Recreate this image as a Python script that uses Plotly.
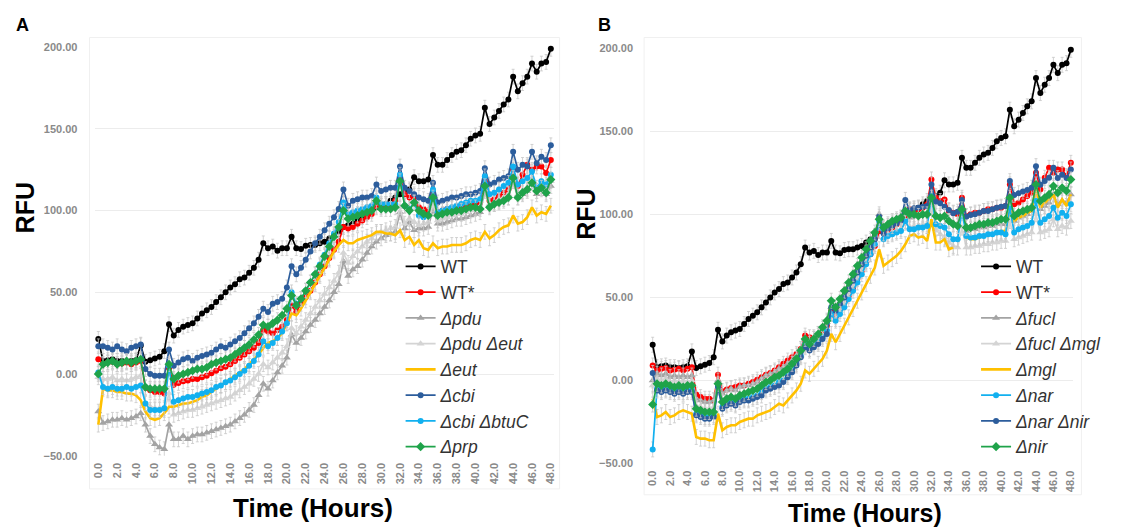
import plotly.graph_objects as go

HOURS = [0.0, 0.5, 1.0, 1.5, 2.0, 2.5, 3.0, 3.5, 4.0, 4.5, 5.0, 5.5, 6.0, 6.5, 7.0, 7.5,
         8.0, 8.5, 9.0, 9.5, 10.0, 10.5, 11.0, 11.5, 12.0, 12.5, 13.0, 13.5, 14.0, 14.5,
         15.0, 15.5, 16.0, 16.5, 17.0, 17.5, 18.0, 18.5, 19.0, 19.5, 20.0, 20.5, 21.0,
         21.5, 22.0, 22.5, 23.0, 23.5, 24.0, 24.5, 25.0, 25.5, 26.0, 26.5, 27.0, 27.5,
         28.0, 28.5, 29.0, 29.5, 30.0, 30.5, 31.0, 31.5, 32.0, 32.5, 33.0, 33.5, 34.0,
         34.5, 35.0, 35.5, 36.0, 36.5, 37.0, 37.5, 38.0, 38.5, 39.0, 39.5, 40.0, 40.5,
         41.0, 41.5, 42.0, 42.5, 43.0, 43.5, 44.0, 44.5, 45.0, 45.5, 46.0, 46.5, 47.0,
         47.5, 48.0]
TICK_VALS = [0, 2, 4, 6, 8, 10, 12, 14, 16, 18, 20, 22, 24, 26, 28, 30, 32, 34, 36, 38,
             40, 42, 44, 46, 48]
TICK_LABELS = ["0.0", "2.0", "4.0", "6.0", "8.0", "10.0", "12.0", "14.0", "16.0", "18.0",
               "20.0", "22.0", "24.0", "26.0", "28.0", "30.0", "32.0", "34.0", "36.0",
               "38.0", "40.0", "42.0", "44.0", "46.0", "48.0"]
Y_TICKS = [-50, 0, 50, 100, 150, 200]

# ---- shared series ----
WT = [21.5,
      8, 8.5, 9, 8, 8, 7.5, 8, 8.5, 17.5,
      7.5, 8.5, 9.5, 10.5, 14,
      30.5,
      23.5, 27, 29, 30, 31, 34, 37, 39, 41, 44, 47, 50, 53, 55, 58, 59, 62, 65, 70,
      80,
      77, 78, 75.5, 77, 77,
      84,
      77, 76.5, 78.5, 79, 79, 80, 81, 83, 85, 87,
      90,
      91, 92, 94, 96, 98, 100, 102, 103, 104, 106, 108,
      110,
      111, 113, 120.5, 118, 118, 119,
      134,
      128, 128, 131, 134, 136, 137, 140, 144, 146, 147,
      163,
      153, 157, 161, 165, 168,
      182,
      173, 178, 182,
      190,
      185, 190, 191, 199]
WT_STAR = [9,
           6, 7, 7.5, 6, 6.5, 7, 6, 7, 8,
           -8.5, -10, -11, -11, -12,
           3.5,
           -6.5, -5.5, -4.5, -4, -3, -3, -2, -1, 0.5, 2, 3.5, 4.5, 6, 8, 10, 12, 14, 16, 19,
           27,
           26, 25, 27, 29, 33,
           42,
           38, 43, 47, 51, 56, 61, 66, 71, 76, 81,
           90,
           89, 90, 92, 94, 96, 98, 103, 102, 103, 104, 106,
           121,
           110, 108, 109, 102, 101, 100,
           110,
           99, 100, 101, 101, 102, 103, 103, 104, 104, 105,
           118,
           106, 107, 109, 111, 113,
           125,
           115, 122, 128,
           125,
           127, 127, 123, 131]

# ---- panel A ----
PDU = [-23,
       -30, -29, -28, -28, -27, -28, -27, -26, -24,
       -31, -38, -43, -45, -46,
       -31,
       -40, -40, -38, -40, -38, -37, -37, -36, -35, -34, -33, -32, -31, -29, -27, -25, -22, -19, -13,
       -6,
       -9, -4, 1, 5, 10,
       24,
       19, 22, 26, 30, 33, 37, 41, 45, 50, 55,
       69,
       60, 64, 66, 70, 74, 78, 81, 83, 85, 86, 87,
       99,
       89, 93, 88, 89, 89, 90,
       101,
       92, 92, 93, 94, 95, 95, 96, 97, 98, 99,
       112,
       103, 104, 106, 107, 108,
       118,
       108, 110, 112,
       118,
       110, 113, 110, 115]
PDU_EUT = [-2,
           -3, -3, -2, -4, -3, -4, -3, -2, -1,
           -18, -20, -21, -21, -22,
           -12,
           -25, -24, -23, -22, -22, -21, -20, -19, -18, -17, -16, -15, -14, -12, -10, -8, -6, -3, 0,
           6,
           4, 7, 10, 13, 17,
           28,
           25, 29, 33, 37, 41, 45, 49, 53, 57, 62,
           74,
           68, 72, 75, 78, 81, 83, 86, 87, 88, 89, 90,
           102,
           92, 95, 93, 91, 92, 93,
           104,
           94, 95, 96, 97, 98, 98, 99, 100, 101, 102,
           113,
           104, 105, 107, 108, 110,
           119,
           110, 112, 114,
           120,
           112, 115, 113, 118]
EUT = [-31,
       -9, -10, -10, -11, -11, -12, -12, -13, -16,
       -23, -27, -28, -27, -24,
       -20,
       -20, -19, -18, -18, -17, -16, -14, -13, -11, -9, -7, -5, -3, -1, 1, 3, 6, 9, 12,
       16,
       19, 20, 22, 25, 31,
       37,
       36, 40, 45, 50, 55, 60, 65, 70, 75, 79,
       82,
       80, 80, 82, 83, 84, 85, 87, 87, 86, 86, 85,
       88,
       82, 84, 79, 82, 77, 76,
       80,
       77, 78, 78, 79, 79, 79, 80, 82, 83, 82,
       87,
       83, 85, 88, 90, 91,
       97,
       92, 93, 96,
       102,
       97, 99, 98, 103]
CBI = [17,
       17, 16, 15, 17, 15, 14, 16, 17, 18,
       3, 0, -1, -1, -1,
       15,
       5, 7, 9, 10, 8, 10, 11, 12, 13, 15, 17, 16, 18, 20, 22, 25, 28, 31, 35,
       40,
       38, 43, 44, 46, 53,
       66,
       61, 65, 70, 75, 80, 84, 88, 92, 96, 101,
       113,
       103, 106, 107, 108, 108, 109, 116, 112, 113, 114, 114,
       127,
       114, 112, 110, 108, 107, 106,
       117,
       105, 106, 107, 108, 108, 109, 110, 110, 111, 112,
       126,
       116, 117, 119, 120, 121,
       136,
       125, 128, 127,
       136,
       129, 133, 131, 140]
CBI_BTUC = [1,
            -8, -9, -8, -9, -9, -8, -9, -8, -7,
            -18, -22, -22, -22, -21,
            5,
            -17, -16, -15, -14, -14, -13, -12, -11, -10, -8, -7, -5, -4, -2, 0, 2, 5, 8, 12,
            20,
            17, 19, 22, 26, 31,
            50,
            43, 46, 51, 56, 61, 67, 73, 80, 86, 93,
            105,
            98, 99, 100, 101, 102, 103, 108, 104, 104, 104, 104,
            122,
            103, 101, 105, 97, 96, 97,
            113,
            99, 100, 101, 102, 103, 104, 105, 106, 106, 107,
            121,
            110, 111, 113, 115, 117,
            127,
            116, 118, 120,
            124,
            114, 118, 116, 122]
PRP = [0,
       6, 7, 8, 6, 7, 8, 7, 8, 9,
       -8, -9, -9, -9, -9,
       6,
       -3, -1, 0, 1, 2, 3, 3, 4, 6, 7, 8, 9, 10, 12, 14, 16, 18, 21, 24,
       30,
       29, 31, 33, 36, 40,
       48,
       42, 46, 51, 56, 61, 66, 72, 78, 84, 90,
       100,
       95, 96, 97, 98, 99, 100, 106, 101, 101, 101, 102,
       118,
       103, 100, 105, 100, 98, 97,
       108,
       97, 98, 99, 99, 100, 100, 101, 102, 102, 101,
       115,
       102, 104, 105, 106, 108,
       120,
       108, 111, 113,
       117,
       112, 114, 111, 119]

# ---- panel B ----
FUCL = [0,
        4, 3, 4, 2, 3, 2, 3, 2, 3,
        -11, -12, -13, -13, -12,
        0,
        -8, -6, -5, -6, -4, -3, -3, -2, -1, 1, 3, 4, 5, 7, 8, 10, 12, 15, 19,
        25,
        23, 26, 28, 31, 35,
        44,
        42, 47, 52, 57, 62, 67, 72, 77, 82, 87,
        100,
        92, 93, 95, 96, 97, 100, 98, 99, 99, 100, 100,
        112,
        100, 98, 99, 96, 95, 94,
        104,
        90, 91, 91, 92, 92, 93, 93, 94, 94, 94,
        108,
        96, 98, 99, 100, 102,
        114,
        103, 105, 107,
        112,
        106, 108, 107, 112]
FUCL_MGL = [-3,
            1, 0, 1, -1, 0, -1, 0, -1, 0,
            -15, -16, -17, -17, -16,
            -4,
            -12, -10, -9, -10, -8, -7, -7, -6, -5, -3, -2, -1, 1, 2, 4, 6, 8, 11, 15,
            21,
            19, 22, 24, 27, 31,
            40,
            37, 42, 47, 52, 57, 62, 67, 72, 77, 82,
            95,
            86, 88, 89, 90, 91, 95, 92, 93, 93, 94, 94,
            105,
            91, 88, 86, 83, 81, 80,
            92,
            80, 80, 81, 81, 82, 82, 83, 83, 84, 84,
            96,
            85, 86, 87, 88, 89,
            100,
            89, 90, 91,
            97,
            91, 93, 92, 96]
MGL = [-11,
       -22, -21, -19, -22, -21, -19, -18, -19, -20,
       -34, -35, -35, -36, -36,
       -20,
       -30, -28, -27, -27, -25, -24, -23, -23, -21, -20, -19, -18, -16, -14, -15, -12, -9, -6, -2,
       6,
       4, 7, 10, 13, 18,
       28,
       23, 28, 33, 38, 43, 48, 53, 58, 63, 68,
       79,
       69, 71, 73, 75, 78, 82, 87, 88, 86, 87, 84,
       97,
       83, 83, 85, 79, 80, None,
       None,
       86, 85, 85, 86, 87, 88, 88, 89, 90, 90,
       104,
       96, 98, 99, 101, 102,
       116,
       104, 107, 109,
       112,
       104, 109, 105, 112]
NAR = [-41.5,
       -5, -6, -5, -6, -7, -6, -7, -6, -6,
       -20, -21, -22, -22, -21,
       -3,
       -16, -14, -13, -14, -12, -11, -11, -10, -9, -7, -5, -4, -3, -1, 0, 3, 6, 10, 15,
       22,
       19, 21, 23, 26, 30,
       40,
       36, 40, 44, 49, 54, 59, 64, 70, 76, 82,
       96,
       85, 87, 88, 89, 90, 96, 91, 91, 92, 92, 93,
       111,
       94, 93, 92, 88, 85, 85,
       102,
       87, 86, 86, 87, 87, 88, 88, 89, 89, 88,
       104,
       89, 91, 92, 93, 95,
       108,
       95, 97, 99,
       104,
       98, 101, 99, 106]
NAR_NIR = [4.5,
           -6, -7, -6, -7, -8, -7, -8, -7, -7,
           -21, -22, -23, -23, -22,
           -4,
           -17, -15, -14, -15, -13, -12, -12, -11, -10, -9, -6, -5, -4, -3, -1, 2, 5, 9, 14,
           20,
           18, 20, 22, 25, 28,
           44,
           42, 46, 50, 55, 60, 65, 70, 75, 80, 85,
           98.6,
           88.5, 91.5, 93, 94.5, 96.6, 108.7, 102.6, 103.6, 104, 104.6, 105,
           118,
           107.7, 106.7, 104.6, 102.6, 100.6, 101.6,
           108.7,
           98.6, 99.6, 100, 101, 102, 102, 103, 104, 104.6, 105,
           120,
           111.7, 112.7, 113.7, 114.7, 116,
           129,
           117.8, 120, 122,
           128,
           121.8, 123.8, 121.8, 127]
NIR = [-14.5,
       -2, -3, -2, -3, -4, -3, -4, -3, -3,
       -17, -18, -19, -19, -19,
       -2,
       -13, -11, -10, -11, -9, -8, -7, -6, -5, -3, -1, 0, 2, 3, 5, 7, 10, 13, 18,
       25,
       22, 25, 28, 32, 36,
       48,
       44, 49, 54, 59, 64, 69, 74, 79, 84, 89,
       97,
       92, 94, 96, 97, 98, 102, 100, 100, 99, 100, 100,
       110,
       99, 98, 99, 96, 94, 93,
       103,
       92, 92, 93, 94, 94, 95, 95, 96, 97, 97,
       110,
       99, 101, 102, 103, 104,
       118,
       108, 110, 112,
       117,
       113, 116, 114, 121]

for _name, _s in [("WT", WT), ("WT_STAR", WT_STAR), ("PDU", PDU), ("PDU_EUT", PDU_EUT),
                  ("EUT", EUT), ("CBI", CBI), ("CBI_BTUC", CBI_BTUC), ("PRP", PRP),
                  ("FUCL", FUCL), ("FUCL_MGL", FUCL_MGL), ("MGL", MGL), ("NAR", NAR),
                  ("NAR_NIR", NAR_NIR), ("NIR", NIR)]:
    assert len(_s) == len(HOURS), (_name, len(_s))

SERIES_A = [
    ("WT", WT, "#000000", "circle"),
    ("WT*", WT_STAR, "#ff0000", "circle"),
    ("<i>Δpdu</i>", PDU, "#a3a3a3", "triangle-up"),
    ("<i>Δpdu Δeut</i>", PDU_EUT, "#d4d4d4", "triangle-up"),
    ("<i>Δeut</i>", EUT, "#ffc000", None),
    ("<i>Δcbi</i>", CBI, "#2c5d9c", "circle"),
    ("<i>Δcbi ΔbtuC</i>", CBI_BTUC, "#12b0ef", "circle"),
    ("<i>Δprp</i>", PRP, "#1fa34a", "diamond"),
]
SERIES_B = [
    ("WT", WT, "#000000", "circle"),
    ("WT*", WT_STAR, "#ff0000", "circle"),
    ("<i>Δfucl</i>", FUCL, "#a3a3a3", "triangle-up"),
    ("<i>Δfucl Δmgl</i>", FUCL_MGL, "#d4d4d4", "triangle-up"),
    ("<i>Δmgl</i>", MGL, "#ffc000", None),
    ("<i>Δnar</i>", NAR, "#12b0ef", "circle"),
    ("<i>Δnar Δnir</i>", NAR_NIR, "#2c5d9c", "circle"),
    ("<i>Δnir</i>", NIR, "#1fa34a", "diamond"),
]
ERR = 4.5

W, H = 1142, 527
FONT = "Liberation Sans, Arial, sans-serif"

fig = go.Figure()


def add_panel(series, xa, ya, legend):
    for name, vals, color, sym in series:
        err = dict(type="constant", value=ERR, color="#c8c8c8", thickness=0.8, width=1.5)
        if sym is None:
            fig.add_trace(go.Scatter(
                x=HOURS, y=vals, name=name, mode="lines", xaxis=xa, yaxis=ya,
                line=dict(color=color, width=2.6), error_y=err, legend=legend,
                connectgaps=False, cliponaxis=False))
        else:
            fig.add_trace(go.Scatter(
                x=HOURS, y=vals, name=name, mode="lines+markers", xaxis=xa, yaxis=ya,
                line=dict(color=color, width=1.7),
                marker=dict(color=color, symbol=sym, size=6 if sym == "circle" else 7),
                error_y=err, legend=legend, cliponaxis=False))


add_panel(SERIES_A, "x", "y", "legend")
add_panel(SERIES_B, "x2", "y2", "legend2")


def px_x(p):
    return p / W


def px_y(p):
    return 1 - p / H


TICKFONT = dict(family=FONT, size=11, color="#8a8a8a", weight="bold")
xcommon = dict(range=[-0.3, 48.3], tickmode="array", tickvals=TICK_VALS, ticktext=TICK_LABELS,
               tickangle=-90, showgrid=False, zeroline=False, showline=False, ticks="",
               tickfont=TICKFONT, ticklabelstandoff=4)
ycommon = dict(range=[-50, 200], tickmode="array", tickvals=Y_TICKS, tickformat=".2f",
               showgrid=True, gridcolor="#ececec", gridwidth=1, zeroline=False,
               showline=False, ticks="", tickfont=TICKFONT)

LEGFONT = dict(family=FONT, size=17.5, color="#333333")

fig.update_layout(
    width=W, height=H, margin=dict(l=0, r=0, t=0, b=0),
    paper_bgcolor="white", plot_bgcolor="white",
    font=dict(family=FONT),
    xaxis=dict(domain=[px_x(84), px_x(545)], anchor="y", **xcommon),
    yaxis=dict(domain=[px_y(452), px_y(34)], anchor="x", ticklabelstandoff=17, **ycommon),
    xaxis2=dict(domain=[px_x(642), px_x(1068)], anchor="y2", **xcommon),
    yaxis2=dict(domain=[px_y(460), px_y(35)], anchor="x2", ticklabelstandoff=16, **ycommon),
    legend=dict(x=px_x(391), y=px_y(240), xanchor="left", yanchor="top", font=LEGFONT,
                bgcolor="rgba(255,255,255,0)", borderwidth=0, tracegroupgap=0,
                itemwidth=30),
    legend2=dict(x=px_x(970), y=px_y(240), xanchor="left", yanchor="top", font=LEGFONT,
                 bgcolor="rgba(255,255,255,0)", borderwidth=0, tracegroupgap=0,
                 itemwidth=30),
    showlegend=True,
)

annos = [
    dict(text="<b>A</b>", x=px_x(11), y=px_y(11), size=18),
    dict(text="<b>B</b>", x=px_x(596), y=px_y(11), size=18),
    dict(text="<b>Time (Hours)</b>", x=px_x(303), y=px_y(506), size=26),
    dict(text="<b>Time (Hours)</b>", x=px_x(858), y=px_y(511), size=25),
]
for a in annos:
    fig.add_annotation(text=a["text"], x=a["x"], y=a["y"], xref="paper", yref="paper",
                       showarrow=False, xanchor="center", yanchor="middle",
                       font=dict(family=FONT, size=a["size"], color="#000000"))
for xp, yp in ((14, 198), (578, 205)):
    fig.add_annotation(text="<b>RFU</b>", x=px_x(xp), y=px_y(yp), xref="paper",
                       yref="paper", showarrow=False, textangle=-90,
                       xanchor="center", yanchor="middle",
                       font=dict(family=FONT, size=25, color="#000000"))

for x0, y0, x1, y1 in [(78, 24, 551, 486), (636, 24, 1076, 492)]:
    fig.add_shape(type="rect", xref="paper", yref="paper", x0=px_x(x0), x1=px_x(x1),
                  y0=px_y(y1), y1=px_y(y0), line=dict(color="#f0f0f0", width=1),
                  layer="below")

fig.write_html("out.html")
